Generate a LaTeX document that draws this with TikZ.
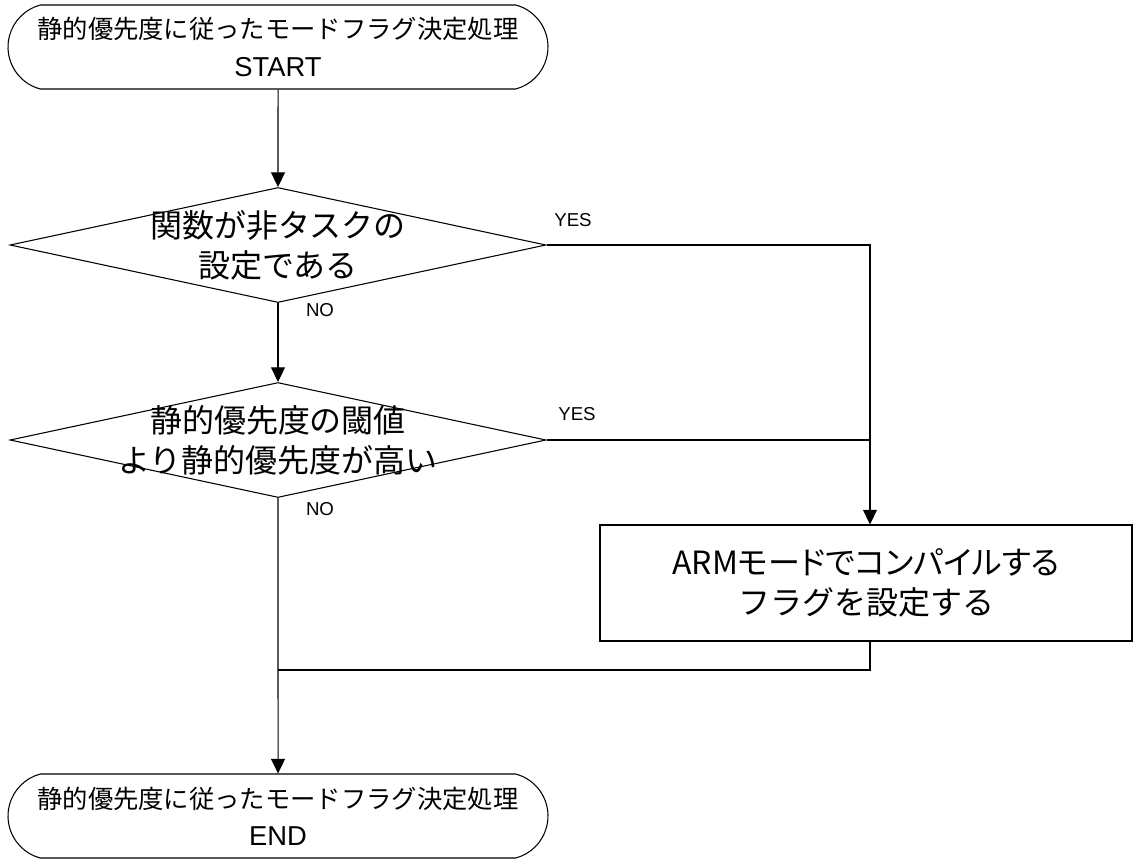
\documentclass[tikz,border=0pt]{standalone}
\usepackage{fontspec}
\setmainfont{Liberation Sans}
\newfontfamily\jp{Noto Sans CJK JP}
\newfontfamily\jpp[RawFeature=+palt]{Noto Sans CJK JP}
\usetikzlibrary{shapes.geometric,shapes.misc,arrows.meta}

\begin{document}
\begin{tikzpicture}[x=0.75pt, y=-0.75pt, line width=0.8pt,
	terminal/.style={draw, rounded rectangle, rounded rectangle arc length=150, minimum width=405pt, minimum height=63pt, inner sep=0pt, align=center, font=\fontsize{19}{28}\selectfont},
	decision/.style={draw, diamond, minimum width=402pt, minimum height=86.25pt, inner sep=0pt},
	process/.style={draw, rectangle, minimum width=399pt, minimum height=87pt, align=center, font=\fontsize{24}{30}\selectfont},
	bigtext/.style={align=center, font=\fontsize{24}{30}\selectfont},
	answer/.style={font=\fontsize{14}{16}\selectfont},
	flow/.style={-{Triangle[length=11pt,width=10.5pt]}}]
	\useasboundingbox (0,0) rectangle (1133,858);
	\node[terminal] (start) at (278,47) {{\jp 静的優先度に従ったモードフラグ決定処理}\\{\fontsize{20.5}{28}\selectfont START}};
	\node[decision] (cond1) at (278,245) {};
	\node[bigtext] (cond1txt) at (cond1) {\jp 関数が非タスクの\\\jp 設定である};
	\node[decision] (cond2) at (278,440) {};
	\node[bigtext] (cond2txt) at (cond2) {\jp 静的優先度の閾値\\\jp より静的優先度が高い};
	\node[process] (setflag) at (866,583) {{\jpp ARMモードでコンパイルする}\\{\jp フラグを設定する}};
	\node[terminal] (end) at (278,816) {{\jp 静的優先度に従ったモードフラグ決定処理}\\{\fontsize{20.5}{28}\selectfont END}};
	\coordinate (right) at (870,245);
	\coordinate (merge) at (278,670);

	\draw[flow] (start) -- (cond1);
	\draw[flow] (cond1) -- (cond2);
	\draw[flow] (cond2) -- (end);
	\draw[flow] (cond1.east) -- (right) -- (right |- setflag.north);
	\draw (cond2.east) -- (cond2.east -| right);
	\draw (setflag.south -| right) |- (merge);

	\node[answer] (yes1) at (573,220) {YES};
	\node[answer] (no1) at (320,310) {NO};
	\node[answer] (yes2) at (577,414) {YES};
	\node[answer] (no2) at (320,509) {NO};
\end{tikzpicture}
\end{document}
